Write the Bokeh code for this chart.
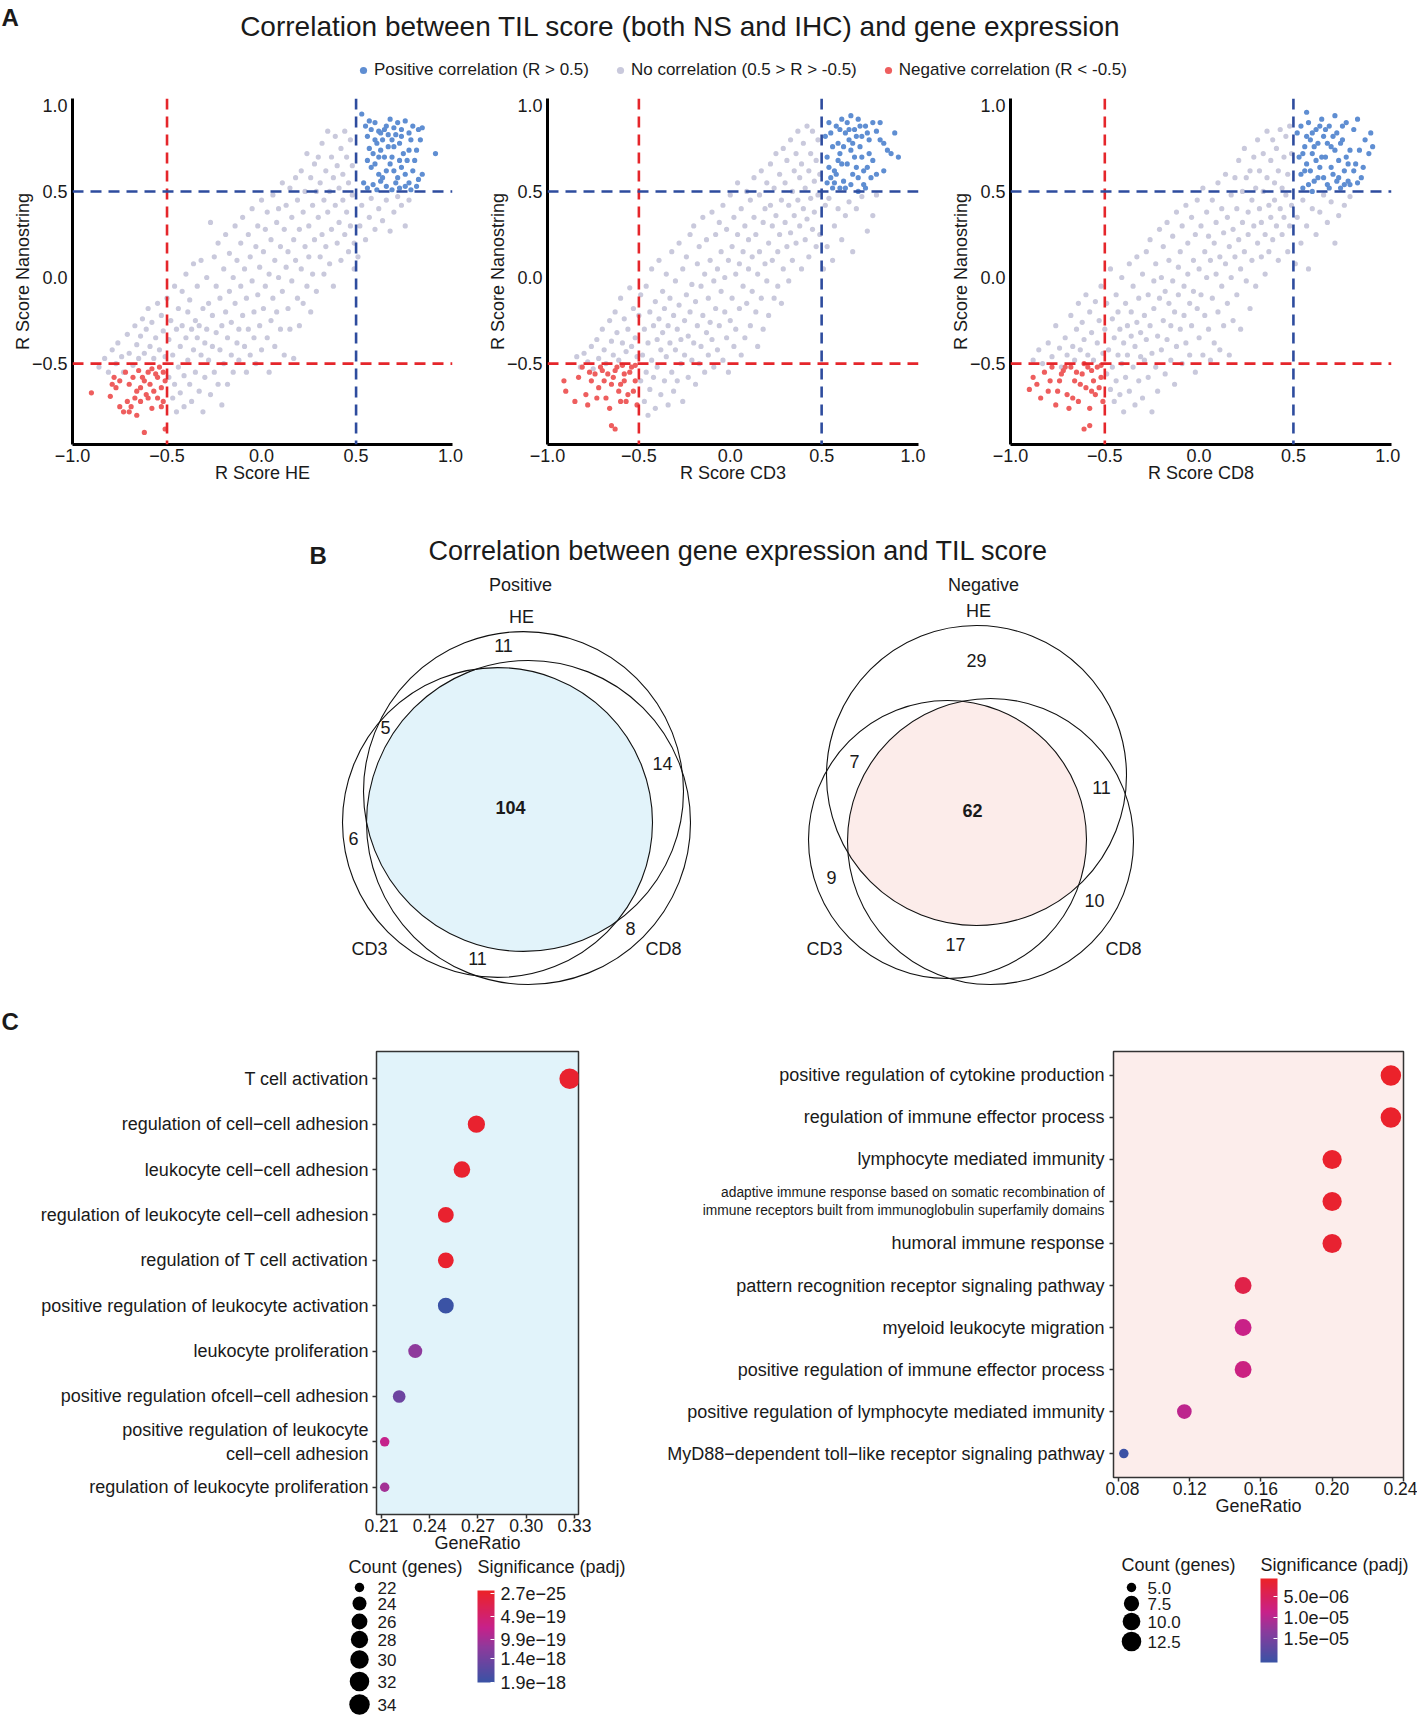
import math
from bokeh.plotting import figure
from bokeh.layouts import column, row
from bokeh.models import (Range1d, FixedTicker, Span, Legend, LegendItem,
                          ColumnDataSource, LinearColorMapper, ColorBar, AllLabels)
from bokeh.transform import transform
from bokeh.core.properties import value
from bokeh.embed import file_html
from bokeh.resources import INLINE

FONT = "Liberation Sans"
INK = "#1a1a1a"

# ------------------------------------------------------------------ data A
HE_GRAY = [
    (-0.86,-0.52),(-0.83,-0.47),(-0.81,-0.55),(-0.79,-0.42),(-0.77,-0.50),(-0.76,-0.38),(-0.74,-0.46),(-0.73,-0.55),
    (-0.71,-0.33),(-0.70,-0.44),(-0.68,-0.51),(-0.67,-0.28),(-0.66,-0.39),(-0.65,-0.47),(-0.64,-0.34),(-0.63,-0.24),(-0.62,-0.44),
    (-0.61,-0.30),(-0.60,-0.18),(-0.59,-0.40),(-0.58,-0.26),(-0.57,-0.47),(-0.56,-0.35),(-0.55,-0.15),(-0.54,-0.42),(-0.53,-0.22),(-0.52,-0.31),(-0.51,-0.46),
    (-0.50,-0.12),(-0.49,-0.36),(-0.49,-0.58),(-0.48,-0.25),(-0.47,-0.70),(-0.47,-0.45),(-0.46,-0.05),(-0.46,-0.62),(-0.45,-0.30),(-0.45,-0.78),(-0.44,-0.18),(-0.44,-0.52),(-0.43,-0.40),(-0.43,-0.67),(-0.42,-0.08),(-0.42,-0.28),(-0.41,-0.57),(-0.41,-0.75),
    (-0.40,0.02),(-0.40,-0.35),(-0.39,-0.20),(-0.39,-0.48),(-0.38,-0.62),(-0.38,-0.13),(-0.37,-0.30),(-0.37,-0.72),(-0.36,-0.42),(-0.36,0.08),(-0.35,-0.25),(-0.35,-0.55),(-0.34,-0.35),(-0.34,-0.05),(-0.33,-0.66),(-0.33,-0.28),(-0.32,-0.45),(-0.32,0.10),(-0.31,-0.18),(-0.31,-0.78),
    (-0.30,-0.38),(-0.30,-0.58),(-0.29,0.00),(-0.29,-0.30),(-0.28,-0.15),(-0.28,-0.48),(-0.27,0.32),(-0.27,-0.68),(-0.26,-0.22),(-0.26,-0.40),(-0.25,0.12),(-0.25,-0.55),(-0.24,-0.32),(-0.24,-0.05),(-0.23,-0.62),(-0.23,0.20),(-0.22,-0.42),(-0.22,-0.12),(-0.21,-0.28),(-0.21,-0.74),
    (-0.20,0.05),(-0.20,-0.50),(-0.19,-0.20),(-0.19,0.25),(-0.18,-0.35),(-0.18,-0.62),(-0.17,-0.08),(-0.17,0.14),(-0.16,-0.45),(-0.16,-0.26),(-0.15,0.00),(-0.15,-0.55),(-0.14,0.30),(-0.14,-0.15),(-0.13,-0.38),(-0.13,0.10),(-0.12,-0.30),(-0.12,-0.48),(-0.11,0.20),(-0.11,-0.05),
    (-0.10,-0.22),(-0.10,0.35),(-0.09,-0.40),(-0.09,0.05),(-0.08,-0.12),(-0.08,-0.55),(-0.07,0.25),(-0.07,-0.30),(-0.06,0.12),(-0.06,-0.45),(-0.05,-0.02),(-0.05,0.40),(-0.04,-0.20),(-0.04,-0.35),(-0.03,0.18),(-0.03,-0.50),(-0.02,0.30),(-0.02,-0.10),(-0.01,-0.28),(-0.01,0.06),
    (0.00,0.45),(0.00,-0.42),(0.01,0.15),(0.01,-0.18),(0.02,-0.05),(0.02,0.28),(0.03,-0.35),(0.03,0.38),(0.04,0.02),(0.04,-0.55),(0.05,0.22),(0.05,-0.25),(0.06,0.48),(0.06,-0.12),(0.07,0.10),(0.07,-0.40),(0.08,0.32),(0.08,-0.20),(0.09,0.00),(0.09,0.40),
    (0.10,-0.30),(0.10,0.18),(0.11,0.55),(0.11,-0.08),(0.12,0.28),(0.12,-0.45),(0.13,0.06),(0.13,0.42),(0.14,-0.18),(0.14,0.15),(0.15,0.52),(0.15,-0.30),(0.16,0.35),(0.16,-0.02),(0.17,-0.47),(0.17,0.22),(0.18,0.10),(0.18,0.58),(0.19,-0.12),(0.19,0.45),
    (0.20,0.28),(0.20,-0.28),(0.21,0.05),(0.21,0.62),(0.22,0.38),(0.22,-0.15),(0.23,0.18),(0.23,0.50),(0.24,-0.05),(0.24,0.72),(0.25,0.30),(0.25,0.12),(0.26,0.58),(0.26,-0.20),(0.27,0.42),(0.27,0.02),(0.28,0.66),(0.28,0.22),(0.29,0.50),(0.29,-0.08),
    (0.30,0.35),(0.30,0.70),(0.31,0.12),(0.31,0.55),(0.32,0.25),(0.32,0.78),(0.33,0.45),(0.33,0.02),(0.34,0.62),(0.34,0.18),(0.35,0.85),(0.35,0.38),(0.36,0.50),(0.36,0.08),(0.37,0.70),(0.37,0.28),(0.38,0.58),(0.38,-0.05),(0.39,0.42),(0.39,0.82),
    (0.40,0.20),(0.40,0.65),(0.41,0.52),(0.41,0.32),(0.42,0.75),(0.42,0.10),(0.43,0.45),(0.43,0.60),(0.44,0.25),(0.44,0.85),(0.45,0.38),(0.45,0.70),(0.46,0.15),(0.46,0.55),(0.47,0.80),(0.47,0.30),(0.48,0.48),(0.48,0.65),(0.49,0.05),(0.49,0.20),
    (0.51,0.12),(0.52,0.30),(0.53,0.42),(0.55,0.22),(0.57,0.35),(0.58,0.46),(0.60,0.28),(0.62,0.40),(0.64,0.33),(0.66,0.45),(0.68,0.27),(0.70,0.38),(0.72,0.47),(0.74,0.42),(0.76,0.30),(0.78,0.45),
]
HE_BLUE = [
    (0.53,0.95),(0.55,0.88),(0.56,0.82),(0.58,0.86),(0.60,0.90),(0.62,0.85),(0.64,0.80),(0.66,0.88),(0.68,0.92),(0.70,0.87),
    (0.72,0.90),(0.74,0.86),(0.76,0.91),(0.78,0.84),(0.80,0.88),(0.83,0.86),(0.85,0.87),(0.57,0.75),(0.59,0.72),(0.61,0.78),
    (0.63,0.74),(0.65,0.70),(0.67,0.76),(0.69,0.80),(0.71,0.83),(0.73,0.78),(0.75,0.72),(0.77,0.68),(0.79,0.80),(0.82,0.74),
    (0.84,0.80),(0.92,0.72),(0.56,0.68),(0.58,0.64),(0.60,0.66),(0.62,0.60),(0.64,0.58),(0.66,0.62),(0.68,0.66),(0.70,0.62),
    (0.72,0.58),(0.74,0.64),(0.76,0.60),(0.78,0.55),(0.80,0.62),(0.83,0.57),(0.85,0.60),(0.54,0.55),(0.56,0.52),(0.59,0.54),
    (0.61,0.51),(0.63,0.56),(0.66,0.53),(0.69,0.51),(0.71,0.55),(0.73,0.52),(0.76,0.53),(0.79,0.51),(0.82,0.53),(0.60,0.80),
    (0.63,0.84),(0.67,0.83),(0.70,0.76),(0.74,0.82),(0.57,0.91),(0.65,0.86),(0.69,0.70),(0.73,0.68),(0.78,0.74),(0.81,0.68),(0.62,0.70),
]
HE_RED = [
    (-0.90,-0.67),(-0.80,-0.69),(-0.78,-0.58),(-0.75,-0.60),(-0.72,-0.55),(-0.70,-0.62),(-0.68,-0.58),(-0.66,-0.66),(-0.64,-0.72),(-0.62,-0.60),
    (-0.60,-0.55),(-0.58,-0.53),(-0.56,-0.56),(-0.54,-0.52),(-0.52,-0.55),(-0.51,-0.60),(-0.53,-0.64),(-0.55,-0.70),(-0.57,-0.66),(-0.59,-0.62),
    (-0.61,-0.68),(-0.63,-0.58),(-0.65,-0.54),(-0.67,-0.70),(-0.69,-0.75),(-0.71,-0.72),(-0.73,-0.78),(-0.75,-0.75),(-0.77,-0.64),(-0.79,-0.62),
    (-0.62,-0.90),(-0.51,-0.88),(-0.52,-0.72),(-0.53,-0.75),(-0.58,-0.76),(-0.66,-0.80),(-0.70,-0.78),(-0.60,-0.70),(-0.55,-0.58),(-0.64,-0.64),
]
CD3_GRAY = [
    (-0.84,-0.46),(-0.82,-0.52),(-0.80,-0.44),(-0.78,-0.49),(-0.76,-0.40),(-0.75,-0.53),(-0.73,-0.36),(-0.72,-0.47),
    (-0.70,-0.30),(-0.69,-0.42),(-0.68,-0.50),(-0.66,-0.25),(-0.65,-0.37),(-0.64,-0.45),(-0.63,-0.20),(-0.62,-0.32),(-0.61,-0.48),
    (-0.60,-0.12),(-0.59,-0.38),(-0.58,-0.24),(-0.57,-0.43),(-0.56,-0.30),(-0.55,-0.06),(-0.54,-0.40),(-0.53,-0.18),(-0.52,-0.35),(-0.51,-0.46),
    (-0.50,-0.22),(-0.49,-0.60),(-0.49,-0.10),(-0.48,-0.45),(-0.47,-0.72),(-0.47,-0.30),(-0.46,-0.05),(-0.46,-0.55),(-0.45,-0.38),(-0.45,-0.80),(-0.44,-0.20),(-0.44,-0.65),(-0.43,-0.48),(-0.43,0.05),(-0.42,-0.28),(-0.42,-0.58),(-0.41,-0.14),(-0.41,-0.76),
    (-0.40,-0.36),(-0.40,-0.52),(-0.39,0.10),(-0.39,-0.24),(-0.38,-0.68),(-0.38,-0.42),(-0.37,-0.08),(-0.37,-0.32),(-0.36,-0.60),(-0.36,-0.18),(-0.35,0.02),(-0.35,-0.46),(-0.34,-0.28),(-0.34,-0.74),(-0.33,-0.38),(-0.33,-0.12),(-0.32,-0.55),(-0.32,0.15),(-0.31,-0.22),(-0.31,-0.66),
    (-0.30,-0.42),(-0.30,-0.02),(-0.29,-0.30),(-0.29,-0.60),(-0.28,0.20),(-0.28,-0.16),(-0.27,-0.50),(-0.27,-0.36),(-0.26,0.05),(-0.26,-0.72),(-0.25,-0.25),(-0.25,-0.45),(-0.24,0.12),(-0.24,-0.10),(-0.23,-0.58),(-0.23,-0.34),(-0.22,0.25),(-0.22,-0.20),(-0.21,-0.48),(-0.21,-0.04),
    (-0.20,-0.38),(-0.20,0.30),(-0.19,-0.14),(-0.19,-0.62),(-0.18,0.08),(-0.18,-0.28),(-0.17,-0.50),(-0.17,0.18),(-0.16,-0.05),(-0.16,-0.40),(-0.15,0.35),(-0.15,-0.22),(-0.14,-0.55),(-0.14,0.02),(-0.13,-0.32),(-0.13,0.22),(-0.12,-0.12),(-0.12,-0.45),(-0.11,0.10),(-0.11,-0.26),
    (-0.10,0.38),(-0.10,-0.36),(-0.09,-0.02),(-0.09,-0.52),(-0.08,0.25),(-0.08,-0.18),(-0.07,0.05),(-0.07,-0.42),(-0.06,0.32),(-0.06,-0.28),(-0.05,-0.08),(-0.05,0.15),(-0.04,-0.48),(-0.04,0.42),(-0.03,-0.20),(-0.03,0.00),(-0.02,-0.35),(-0.02,0.28),(-0.01,0.10),(-0.01,-0.55),
    (0.00,-0.25),(0.00,0.48),(0.01,0.18),(0.01,-0.12),(0.02,-0.40),(0.02,0.35),(0.03,0.02),(0.03,-0.30),(0.04,0.25),(0.04,0.55),(0.05,-0.18),(0.05,0.08),(0.06,-0.45),(0.06,0.40),(0.07,0.15),(0.07,-0.05),(0.08,0.30),(0.08,-0.35),(0.09,0.50),(0.09,-0.15),
    (0.10,0.05),(0.10,0.22),(0.11,-0.28),(0.11,0.45),(0.12,0.12),(0.12,-0.08),(0.13,0.35),(0.13,0.58),(0.14,-0.20),(0.14,0.25),(0.15,0.02),(0.15,-0.40),(0.16,0.48),(0.16,0.15),(0.17,-0.12),(0.17,0.62),(0.18,0.32),(0.18,-0.30),(0.19,0.08),(0.19,0.40),
    (0.20,0.55),(0.20,-0.02),(0.21,0.20),(0.21,-0.22),(0.22,0.42),(0.22,0.66),(0.23,0.10),(0.23,0.30),(0.24,-0.12),(0.24,0.52),(0.25,0.36),(0.25,0.72),(0.26,0.15),(0.26,-0.05),(0.27,0.60),(0.27,0.25),(0.28,0.45),(0.28,-0.15),(0.29,0.05),(0.29,0.75),
    (0.30,0.32),(0.30,0.55),(0.31,0.18),(0.31,0.68),(0.32,-0.02),(0.32,0.42),(0.33,0.80),(0.33,0.26),(0.34,0.50),(0.34,0.10),(0.35,0.62),(0.35,0.36),(0.36,0.72),(0.36,0.20),(0.37,0.45),(0.37,0.85),(0.38,0.30),(0.38,0.58),(0.39,0.05),(0.39,0.66),
    (0.40,0.40),(0.40,0.78),(0.41,0.22),(0.41,0.52),(0.42,0.88),(0.42,0.34),(0.43,0.62),(0.43,0.12),(0.44,0.46),(0.44,0.72),(0.45,0.28),(0.45,0.85),(0.46,0.56),(0.46,0.38),(0.47,0.18),(0.47,0.68),(0.48,0.80),(0.48,0.48),(0.49,0.25),(0.49,0.60),
    (0.51,0.05),(0.52,0.42),(0.53,0.18),(0.54,0.46),(0.56,0.10),(0.57,0.30),(0.59,0.40),(0.61,0.22),(0.63,0.36),(0.65,0.44),(0.67,0.15),(0.69,0.40),(0.72,0.47),(0.75,0.27),(0.78,0.36),(0.80,0.48),
]
CD3_BLUE = [
    (0.52,0.82),(0.53,0.70),(0.54,0.64),(0.55,0.58),(0.56,0.52),(0.57,0.62),(0.58,0.88),(0.59,0.78),(0.60,0.72),(0.61,0.66),
    (0.62,0.56),(0.63,0.84),(0.64,0.90),(0.65,0.80),(0.66,0.74),(0.67,0.60),(0.68,0.86),(0.69,0.82),(0.70,0.92),(0.71,0.76),
    (0.72,0.70),(0.73,0.54),(0.74,0.88),(0.75,0.64),(0.76,0.80),(0.77,0.58),(0.78,0.68),(0.80,0.85),(0.82,0.90),(0.84,0.62),
    (0.86,0.74),(0.88,0.72),(0.90,0.84),(0.92,0.70),(0.54,0.90),(0.56,0.76),(0.58,0.60),(0.60,0.86),(0.62,0.76),(0.64,0.66),
    (0.66,0.54),(0.68,0.70),(0.70,0.58),(0.72,0.82),(0.74,0.52),(0.76,0.72),(0.78,0.90),(0.80,0.60),(0.82,0.80),(0.57,0.55),
    (0.59,0.68),(0.61,0.92),(0.63,0.52),(0.65,0.86),(0.67,0.78),(0.69,0.64),(0.71,0.88),(0.73,0.62),(0.75,0.84),(0.53,0.55),
    (0.55,0.84),(0.60,0.52),(0.66,0.94),(0.84,0.78),(0.70,0.50),
]
CD3_RED = [
    (-0.91,-0.60),(-0.90,-0.66),(-0.85,-0.72),(-0.83,-0.58),(-0.81,-0.52),(-0.79,-0.68),(-0.78,-0.74),(-0.76,-0.60),(-0.74,-0.56),(-0.72,-0.64),
    (-0.70,-0.54),(-0.68,-0.70),(-0.66,-0.76),(-0.64,-0.58),(-0.62,-0.52),(-0.60,-0.62),(-0.58,-0.56),(-0.56,-0.68),(-0.54,-0.52),(-0.52,-0.60),
    (-0.51,-0.74),(-0.53,-0.66),(-0.55,-0.55),(-0.57,-0.72),(-0.59,-0.51),(-0.61,-0.66),(-0.63,-0.54),(-0.65,-0.62),(-0.67,-0.56),(-0.69,-0.60),
    (-0.73,-0.70),(-0.77,-0.55),(-0.65,-0.86),(-0.63,-0.88),(-0.60,-0.72),(-0.52,-0.51),(-0.71,-0.52),(-0.58,-0.60),
]
CD8_GRAY = [
    (-0.88,-0.48),(-0.85,-0.42),(-0.83,-0.50),(-0.80,-0.38),(-0.78,-0.46),(-0.76,-0.28),(-0.74,-0.41),(-0.73,-0.52),
    (-0.71,-0.35),(-0.70,-0.45),(-0.68,-0.22),(-0.67,-0.40),(-0.66,-0.48),(-0.65,-0.30),(-0.64,-0.15),(-0.63,-0.42),(-0.62,-0.26),
    (-0.61,-0.36),(-0.60,-0.10),(-0.59,-0.45),(-0.58,-0.20),(-0.57,-0.32),(-0.56,-0.48),(-0.55,-0.14),(-0.54,-0.38),(-0.53,-0.25),(-0.52,-0.05),(-0.51,-0.44),
    (-0.50,-0.30),(-0.49,-0.56),(-0.49,-0.15),(-0.48,-0.42),(-0.47,-0.65),(-0.47,0.05),(-0.46,-0.24),(-0.46,-0.52),(-0.45,-0.35),(-0.45,-0.72),(-0.44,-0.10),(-0.44,-0.60),(-0.43,-0.45),(-0.43,-0.20),(-0.42,-0.30),(-0.42,-0.68),(-0.41,0.00),(-0.41,-0.50),
    (-0.40,-0.38),(-0.40,-0.78),(-0.39,-0.15),(-0.39,-0.58),(-0.38,-0.28),(-0.38,-0.45),(-0.37,0.08),(-0.37,-0.66),(-0.36,-0.34),(-0.36,-0.20),(-0.35,-0.52),(-0.35,-0.05),(-0.34,-0.40),(-0.34,-0.74),(-0.33,-0.26),(-0.33,0.12),(-0.32,-0.60),(-0.32,-0.12),(-0.31,-0.46),(-0.31,-0.32),
    (-0.30,0.02),(-0.30,-0.70),(-0.29,-0.22),(-0.29,-0.48),(-0.28,0.15),(-0.28,-0.36),(-0.27,-0.58),(-0.27,-0.10),(-0.26,-0.28),(-0.26,0.22),(-0.25,-0.44),(-0.25,-0.78),(-0.24,-0.02),(-0.24,-0.18),(-0.23,-0.52),(-0.23,0.08),(-0.22,-0.34),(-0.22,-0.66),(-0.21,0.28),(-0.21,-0.12),
    (-0.20,-0.42),(-0.20,0.00),(-0.19,-0.25),(-0.19,0.18),(-0.18,-0.56),(-0.18,-0.08),(-0.17,0.32),(-0.17,-0.36),(-0.16,-0.15),(-0.16,0.10),(-0.15,-0.48),(-0.15,-0.28),(-0.14,0.24),(-0.14,-0.02),(-0.13,-0.62),(-0.13,-0.20),(-0.12,0.38),(-0.12,-0.40),(-0.11,0.06),(-0.11,-0.10),
    (-0.10,-0.30),(-0.10,0.15),(-0.09,-0.50),(-0.09,0.30),(-0.08,-0.05),(-0.08,-0.22),(-0.07,0.42),(-0.07,-0.38),(-0.06,0.02),(-0.06,0.20),(-0.05,-0.15),(-0.05,-0.45),(-0.04,0.35),(-0.04,-0.28),(-0.03,0.10),(-0.03,-0.08),(-0.02,-0.55),(-0.02,0.25),(-0.01,-0.18),(-0.01,0.45),
    (0.00,0.05),(0.00,-0.35),(0.01,0.30),(0.01,-0.10),(0.02,0.52),(0.02,-0.45),(0.03,0.15),(0.03,-0.22),(0.04,0.38),(0.04,0.00),(0.05,-0.30),(0.05,0.24),(0.06,0.10),(0.06,-0.48),(0.07,0.45),(0.07,-0.12),(0.08,0.20),(0.08,-0.38),(0.09,0.32),(0.09,0.02),
    (0.10,-0.20),(0.10,0.55),(0.11,0.12),(0.11,-0.42),(0.12,0.40),(0.12,-0.05),(0.13,0.26),(0.13,-0.28),(0.14,0.60),(0.14,0.08),(0.15,-0.15),(0.15,0.35),(0.16,0.18),(0.16,-0.45),(0.17,0.48),(0.17,0.00),(0.18,-0.25),(0.18,0.28),(0.19,0.58),(0.19,0.12),
    (0.20,-0.10),(0.20,0.40),(0.21,0.22),(0.21,0.68),(0.22,0.05),(0.22,-0.30),(0.23,0.50),(0.23,0.32),(0.24,0.15),(0.24,0.75),(0.25,-0.02),(0.25,0.58),(0.26,0.38),(0.26,0.25),(0.27,0.62),(0.27,-0.18),(0.28,0.45),(0.28,0.10),(0.29,0.70),(0.29,0.30),
    (0.30,0.52),(0.30,-0.05),(0.31,0.20),(0.31,0.80),(0.32,0.40),(0.32,0.62),(0.33,0.12),(0.33,0.32),(0.34,0.72),(0.34,0.50),(0.35,0.25),(0.35,0.02),(0.36,0.58),(0.36,0.85),(0.37,0.42),(0.37,0.15),(0.38,0.68),(0.38,0.35),(0.39,0.80),(0.39,0.22),
    (0.40,0.55),(0.40,0.45),(0.41,0.30),(0.41,0.75),(0.42,0.62),(0.42,0.10),(0.43,0.86),(0.43,0.40),(0.44,0.52),(0.44,0.25),(0.45,0.70),(0.45,0.35),(0.46,0.82),(0.46,0.48),(0.47,0.15),(0.47,0.60),(0.48,0.30),(0.48,0.88),(0.49,0.72),(0.49,0.42),
    (0.51,0.08),(0.52,0.35),(0.54,0.20),(0.55,0.45),(0.57,0.30),(0.58,0.05),(0.60,0.40),(0.62,0.25),(0.64,0.38),(0.66,0.48),(0.68,0.32),(0.70,0.44),(0.72,0.20),(0.74,0.36),(0.77,0.42),(0.80,0.47),
]
CD8_BLUE = [
    (0.52,0.84),(0.53,0.70),(0.54,0.60),(0.55,0.52),(0.56,0.76),(0.57,0.66),(0.58,0.90),(0.59,0.80),(0.60,0.72),(0.61,0.56),
    (0.62,0.86),(0.63,0.78),(0.64,0.64),(0.65,0.92),(0.66,0.82),(0.67,0.70),(0.68,0.54),(0.69,0.88),(0.70,0.76),(0.71,0.60),
    (0.72,0.94),(0.73,0.84),(0.74,0.68),(0.75,0.52),(0.76,0.80),(0.77,0.62),(0.78,0.90),(0.79,0.56),(0.80,0.74),(0.82,0.86),
    (0.83,0.66),(0.84,0.92),(0.86,0.58),(0.88,0.80),(0.90,0.72),(0.92,0.76),(0.54,0.88),(0.56,0.62),(0.58,0.54),(0.60,0.84),
    (0.62,0.68),(0.64,0.88),(0.66,0.58),(0.68,0.78),(0.70,0.64),(0.72,0.74),(0.74,0.58),(0.76,0.88),(0.78,0.70),(0.80,0.54),
    (0.82,0.62),(0.85,0.74),(0.87,0.64),(0.91,0.84),(0.55,0.72),(0.57,0.82),(0.59,0.62),(0.61,0.76),(0.63,0.58),(0.65,0.70),
    (0.67,0.86),(0.69,0.52),(0.71,0.82),(0.73,0.56),(0.75,0.78),(0.77,0.54),(0.79,0.66),(0.57,0.96),(0.60,0.50),(0.84,0.55),
]
CD8_RED = [
    (-0.90,-0.65),(-0.88,-0.58),(-0.86,-0.62),(-0.84,-0.70),(-0.82,-0.55),(-0.80,-0.66),(-0.78,-0.52),(-0.76,-0.74),(-0.74,-0.60),(-0.72,-0.54),
    (-0.70,-0.68),(-0.69,-0.76),(-0.68,-0.52),(-0.66,-0.60),(-0.64,-0.72),(-0.62,-0.56),(-0.61,-0.50),(-0.60,-0.64),(-0.58,-0.76),(-0.57,-0.54),
    (-0.56,-0.60),(-0.55,-0.68),(-0.54,-0.52),(-0.53,-0.64),(-0.52,-0.58),(-0.51,-0.72),(-0.73,-0.56),(-0.71,-0.52),(-0.67,-0.70),(-0.65,-0.55),
    (-0.63,-0.62),(-0.59,-0.52),(-0.61,-0.88),(-0.58,-0.86),(-0.75,-0.66),(-0.79,-0.60),(-0.52,-0.51),(-0.57,-0.66),
]
A_XLABELS = ["R Score HE", "R Score CD3", "R Score CD8"]
A_YLABEL = "R Score Nanostring"
A_XTICKS = [-1.0, -0.5, 0.0, 0.5, 1.0]
A_YTICKS = [-0.5, 0.0, 0.5, 1.0]
A_THRESH = [-0.5, 0.5]
A_LEGEND = ["Positive correlation (R > 0.5)", "No correlation (0.5 > R > -0.5)", "Negative correlation (R < -0.5)"]

# ------------------------------------------------------------------ data B
VENN_SETS = ["HE", "CD3", "CD8"]
POS_COUNTS = {"HE": 11, "HE&CD3": 5, "HE&CD8": 14, "all": 104, "CD3": 6, "CD3&CD8": 11, "CD8": 8}
NEG_COUNTS = {"HE": 29, "HE&CD3": 7, "HE&CD8": 11, "all": 62, "CD3": 9, "CD3&CD8": 17, "CD8": 10}

# ------------------------------------------------------------------ data C
POS_TERMS = ["T cell activation", "regulation of cell\u2212cell adhesion", "leukocyte cell\u2212cell adhesion",
             "regulation of leukocyte cell\u2212cell adhesion", "regulation of T cell activation",
             "positive regulation of leukocyte activation", "leukocyte proliferation",
             "positive regulation ofcell\u2212cell adhesion",
             "positive regulation of leukocyte\ncell\u2212cell adhesion",
             "regulation of leukocyte proliferation"]
POS_RATIO = [0.327, 0.269, 0.260, 0.250, 0.250, 0.250, 0.231, 0.221, 0.212, 0.212]
POS_COUNT = [34, 28, 27, 26, 26, 26, 24, 23, 22, 22]
POS_PADJ = [2.7e-25, 1e-22, 5e-22, 2e-21, 3e-21, 1.9e-18, 1.15e-18, 1.45e-18, 7.5e-19, 1.0e-18]
POS_RATIO_TICKS = [0.21, 0.24, 0.27, 0.30, 0.33]
POS_SIZE_BREAKS = [22, 24, 26, 28, 30, 32, 34]
POS_PADJ_BREAKS = [2.7e-25, 4.9e-19, 9.9e-19, 1.4e-18, 1.9e-18]

NEG_TERMS = ["positive regulation of cytokine production", "regulation of immune effector process",
             "lymphocyte mediated immunity",
             "adaptive immune response based on somatic recombination of\nimmune receptors built from immunoglobulin superfamily domains",
             "humoral immune response", "pattern recognition receptor signaling pathway",
             "myeloid leukocyte migration", "positive regulation of immune effector process",
             "positive regulation of lymphocyte mediated immunity",
             "MyD88\u2212dependent toll\u2212like receptor signaling pathway"]
NEG_RATIO = [0.233, 0.233, 0.200, 0.200, 0.200, 0.150, 0.150, 0.150, 0.117, 0.083]
NEG_COUNT = [14, 14, 12, 12, 12, 9, 9, 9, 7, 5]
NEG_PADJ = [1.0e-6, 1.1e-6, 1.3e-6, 1.4e-6, 1.5e-6, 3.5e-6, 8.5e-6, 8.0e-6, 9.5e-6, 2.05e-5]
NEG_RATIO_TICKS = [0.08, 0.12, 0.16, 0.20, 0.24]
NEG_SIZE_BREAKS = [5.0, 7.5, 10.0, 12.5]
NEG_PADJ_BREAKS = [5.0e-6, 1.0e-5, 1.5e-5]

# ------------------------------------------------------------------ styles
GRAY_C, BLUE_C, RED_C = "#C9C9DC", "#5F8ED2", "#EE5E5E"
RED_LINE, BLUE_LINE = "#E5262B", "#2E4C9E"
POS_FILL, NEG_FILL = "#E2F3FA", "#FCECEA"


def make_palette(stops, n=256):
    def hx(c):
        return [int(c[i:i + 2], 16) for i in (1, 3, 5)]
    out = []
    for i in range(n):
        t = i / (n - 1)
        for (t0, c0), (t1, c1) in zip(stops[:-1], stops[1:]):
            if t0 <= t <= t1:
                f = (t - t0) / (t1 - t0)
                a, b = hx(c0), hx(c1)
                out.append("#%02x%02x%02x" % tuple(round(a[k] + (b[k] - a[k]) * f) for k in range(3)))
                break
    return out


PAL = make_palette([(0.0, "#EC2227"), (0.4, "#C8218A"), (0.62, "#8D3A9C"), (1.0, "#3A53A5")])


def sup(v):
    return ("%.1e" % v).replace("-", "\u2212")


def canvas(width, height, x0, x1, y_top, y_bottom):
    p = figure(width=width, height=height, x_range=Range1d(x0, x1), y_range=Range1d(y_bottom, y_top),
               x_axis_type=None, y_axis_type=None, min_border=0,
               output_backend="svg", toolbar_location=None)
    p.outline_line_color = None
    p.background_fill_color = "white"
    p.border_fill_color = "white"
    return p


def txt(p, x, y, s, size="18px", align="center", bold=False, color=INK):
    p.text(x=[x], y=[y], text=[s], text_align=align, text_baseline="middle",
           text_font=value(FONT), text_font_size=size,
           text_font_style=value("bold" if bold else "normal"), text_color=color)


# ------------------------------------------------------------------ header (image px 0..1417 x 0..90)
head = canvas(1417, 90, 0, 1417, 0, 90)
txt(head, 1, 17, "A", size="24px", align="left", bold=True)
txt(head, 684, 26, "Correlation between TIL  score (both NS and IHC) and gene expression", size="28px")
# legend proxies: one point each, outside the visible range, so only the legend swatch shows
leg_r = [head.scatter(x=[-500], y=[-500], size=7, fill_color=c, line_color=None) for c in (BLUE_C, GRAY_C, RED_C)]
head_leg = Legend(items=[LegendItem(label=l, renderers=[r]) for l, r in zip(A_LEGEND, leg_r)],
                  orientation="horizontal", location=(354, 10), glyph_width=18, glyph_height=18,
                  label_height=20, label_standoff=2, spacing=22, padding=0, margin=0,
                  border_line_color=None, background_fill_alpha=0,
                  label_text_font=FONT, label_text_font_size="17px", label_text_color=INK)
head.add_layout(head_leg)


# ------------------------------------------------------------------ A
def scatter_panel(gray, blue, red, xlabel, width, left, frame_w, x_end):
    p = figure(width=width, height=418, x_range=Range1d(-1.0, x_end), y_range=Range1d(-0.97, 1.04),
               output_backend="svg", toolbar_location=None,
               min_border_left=left, min_border_right=width - left - frame_w,
               min_border_top=8, min_border_bottom=64)
    p.outline_line_color = None
    p.grid.visible = False
    for pts, col in ((gray, GRAY_C), (blue, BLUE_C), (red, RED_C)):
        p.scatter([q[0] for q in pts], [q[1] for q in pts], size=5.2, fill_color=col, line_color=None)
    for loc, col in zip(A_THRESH, (RED_LINE, BLUE_LINE)):
        for dim in ("width", "height"):
            p.add_layout(Span(location=loc, dimension=dim, line_color=col, line_width=2.6, line_dash="11 7"))
    p.xaxis.axis_label = xlabel
    p.yaxis.axis_label = A_YLABEL
    p.xaxis.ticker = FixedTicker(ticks=A_XTICKS)
    p.yaxis.ticker = FixedTicker(ticks=A_YTICKS)
    p.xaxis.major_label_overrides = {t: ("%.1f" % t).replace("-", "\u2212") for t in A_XTICKS}
    p.yaxis.major_label_overrides = {t: ("%.1f" % t).replace("-", "\u2212") for t in A_YTICKS}
    for ax in (p.xaxis[0], p.yaxis[0]):
        ax.axis_line_width = 3
        ax.axis_line_color = "black"
        ax.major_tick_line_color = None
        ax.minor_tick_line_color = None
        ax.major_tick_in = 0
        ax.major_tick_out = 0
        ax.major_label_text_font = FONT
        ax.major_label_text_font_size = "18px"
        ax.major_label_text_color = INK
        ax.axis_label_text_font = FONT
        ax.axis_label_text_font_size = "18px"
        ax.axis_label_text_font_style = "normal"
        ax.axis_label_text_color = INK
    p.xaxis.major_label_standoff = 4
    p.xaxis.axis_label_standoff = -2
    p.yaxis.major_label_standoff = 5
    p.yaxis.axis_label_standoff = -4
    return p


a1 = scatter_panel(HE_GRAY, HE_BLUE, HE_RED, A_XLABELS[0], 472, 72, 380, 1.01)
a2 = scatter_panel(CD3_GRAY, CD3_BLUE, CD3_RED, A_XLABELS[1], 465, 75, 371, 1.03)
a3 = scatter_panel(CD8_GRAY, CD8_BLUE, CD8_RED, A_XLABELS[2], 480, 73, 381, 1.02)

# ------------------------------------------------------------------ B (image px y 508..1040)
vb = canvas(1417, 532, 0, 1417, 508, 1040)
txt(vb, 309, 555, "B", size="24px", align="left", bold=True)
txt(vb, 738, 550, "Correlation between gene expression and TIL score", size="27px")
txt(vb, 1, 1021, "C", size="24px", align="left", bold=True)

VENN_LAYOUT = [
    dict(title="Positive", tpos=(520, 584), fill=POS_FILL,
         circles={"HE": (523, 791, 160), "CD3": (497, 822, 155), "CD8": (528, 822, 162)},
         setpos={"HE": (521, 616), "CD3": (369, 948), "CD8": (663, 948)},
         regpos={"HE": (503, 645), "HE&CD3": (385, 727), "HE&CD8": (662, 763), "all": (510, 807),
                 "CD3": (353, 838), "CD3&CD8": (477, 958), "CD8": (630, 928)},
         counts=POS_COUNTS),
    dict(title="Negative", tpos=(983, 584), fill=NEG_FILL,
         circles={"HE": (976, 775, 150), "CD3": (947, 839, 139), "CD8": (990, 841, 143)},
         setpos={"HE": (978, 610), "CD3": (824, 948), "CD8": (1123, 948)},
         regpos={"HE": (976, 660), "HE&CD3": (854, 761), "HE&CD8": (1101, 787), "all": (972, 810),
                 "CD3": (831, 877), "CD3&CD8": (955, 944), "CD8": (1094, 900)},
         counts=NEG_COUNTS),
]


def triple_region(circles):
    pts = []
    cs = list(circles.values())
    for i, (cx, cy, r) in enumerate(cs):
        for k in range(1440):
            a = 2 * math.pi * k / 1440
            x, y = cx + r * math.cos(a), cy + r * math.sin(a)
            if all(math.hypot(x - ox, y - oy) <= orr + 1e-6 for j, (ox, oy, orr) in enumerate(cs) if j != i):
                pts.append((x, y))
    mx = sum(p[0] for p in pts) / len(pts)
    my = sum(p[1] for p in pts) / len(pts)
    pts.sort(key=lambda p: math.atan2(p[1] - my, p[0] - mx))
    return [p[0] for p in pts], [p[1] for p in pts]


for v in VENN_LAYOUT:
    xs, ys = triple_region(v["circles"])
    vb.patch(xs, ys, fill_color=v["fill"], line_color=None)
    for s in VENN_SETS:
        cx, cy, r = v["circles"][s]
        vb.circle(x=[cx], y=[cy], radius=r, fill_color=None, line_color="#111111", line_width=1.1)
        txt(vb, *v["setpos"][s], s, size="18px")
    txt(vb, *v["tpos"], v["title"], size="18px")
    for key, n in v["counts"].items():
        txt(vb, *v["regpos"][key], str(n), size="18px", bold=(key == "all"))


# ------------------------------------------------------------------ C
def size_of(c, cmin, cmax):
    return 9.5 + 11.0 * math.sqrt((c - cmin) / (cmax - cmin))


def dot_panel(terms, ratio, count, padj, width, left, top, frame_w, frame_h, bottom, pad,
              x0, x1, ticks, fill, lo, hi, cmin, cmax, axis_labels=True):
    n = len(terms)
    rank = [n - i for i in range(n)]          # first term on top
    p = figure(width=width, height=top + frame_h + bottom, x_range=Range1d(x0, x1),
               y_range=Range1d(0.5 - pad, n + 0.5 + pad),
               output_backend="svg", toolbar_location=None,
               min_border_left=left, min_border_right=width - left - frame_w,
               min_border_top=top, min_border_bottom=bottom)
    p.background_fill_color = fill
    p.border_fill_color = "white"
    p.outline_line_color = "#333333"
    p.outline_line_width = 1.5
    p.grid.visible = False
    mapper = LinearColorMapper(palette=PAL, low=lo, high=hi)
    src = ColumnDataSource(dict(term=terms, rank=rank, ratio=ratio, count=count, padj=padj,
                                size=[size_of(c, cmin, cmax) for c in count]))
    p.scatter("ratio", "rank", size="size", source=src,
              fill_color=transform("padj", mapper), line_color=None)
    p.xaxis.ticker = FixedTicker(ticks=ticks)
    p.xaxis.major_label_overrides = {t: "%.2f" % t for t in ticks}
    p.xaxis.axis_label = "GeneRatio"
    p.yaxis.ticker = FixedTicker(ticks=rank)
    p.yaxis.major_label_overrides = {r: (t if axis_labels else "") for r, t in zip(rank, terms)}
    for ax in (p.xaxis[0], p.yaxis[0]):
        ax.axis_line_color = None
        ax.major_tick_in = 0
        ax.major_tick_out = 4
        ax.major_tick_line_color = "#333333"
        ax.major_tick_line_width = 1.5
        ax.minor_tick_line_color = None
        ax.major_label_text_font = FONT
        ax.major_label_text_color = INK
        ax.axis_label_text_font = FONT
        ax.axis_label_text_font_size = "18px"
        ax.axis_label_text_font_style = "normal"
        ax.axis_label_text_color = INK
    p.xaxis.major_label_text_font_size = "17.5px"
    p.yaxis.major_label_text_font_size = "18px"
    p.xaxis.major_label_standoff = 0
    p.xaxis.axis_label_standoff = -2
    p.yaxis.major_label_standoff = 4 if axis_labels else 0
    return p, rank


c1, _ = dot_panel(POS_TERMS, POS_RATIO, POS_COUNT, POS_PADJ, 648, 376, 11, 202, 463, 43, 0.1,
                  0.2069, 0.3325, POS_RATIO_TICKS, "#E1F3FA", -6.4e-20, 1.91e-18, 22, 34)
# right panel: term labels live in their own strip that shares the panel's y range,
# so the very long two-line term can use a smaller font as in the original
c2, neg_rank = dot_panel(NEG_TERMS, NEG_RATIO, NEG_COUNT, NEG_PADJ, 312, 8, 11, 290, 426, 43, 0.07,
                         0.0772, 0.2401, NEG_RATIO_TICKS, "#FCEDEB", 0.7e-6, 2.07e-5, 5, 14,
                         axis_labels=False)
lab2 = figure(width=457, height=480, x_range=Range1d(0, 457), y_range=c2.y_range,
              x_axis_type=None, y_axis_type=None, min_border_left=0, min_border_right=0,
              min_border_top=11, min_border_bottom=43, output_backend="svg", toolbar_location=None)
lab2.outline_line_color = None
lab2.grid.visible = False
lab_src = ColumnDataSource(dict(term=NEG_TERMS, rank=neg_rank, x=[456] * len(NEG_TERMS),
                                fs=["13.8px" if "\n" in t else "18px" for t in NEG_TERMS]))
lab2.text(x="x", y="rank", text="term", source=lab_src, text_align="right", text_baseline="middle",
          text_font=value(FONT), text_font_size={"field": "fs"}, text_color=INK)


def legend_panel(width, height, x0, y0, y1, tx, ty, dot_x, lab_x, ys, breaks, fmt, cmin, cmax,
                 sig_x, bar_loc, bar_w, bar_h, lo, hi, pbreaks):
    p = canvas(width, height, x0, x0 + width, y0, y1)
    txt(p, tx, ty, "Count (genes)", size="18px", align="left")
    txt(p, sig_x, ty, "Significance (padj)", size="18px", align="left")
    p.scatter(x=[dot_x] * len(breaks), y=ys, size=[size_of(b, cmin, cmax) for b in breaks],
              fill_color="black", line_color=None)
    p.text(x=[lab_x] * len(breaks), y=ys, text=[fmt(b) for b in breaks], text_align="left",
           text_baseline="middle", text_font=value(FONT), text_font_size="17px", text_color=INK)
    bar_mapper = LinearColorMapper(palette=list(reversed(PAL)), low=-hi, high=-lo)
    cb = ColorBar(color_mapper=bar_mapper, orientation="vertical", location=bar_loc,
                  width=bar_w, height=bar_h, padding=0, margin=0, title=None,
                  ticker=FixedTicker(ticks=[-b for b in pbreaks]),
                  major_label_overrides={-b: sup(b) for b in pbreaks},
                  major_label_policy=AllLabels(),
                  major_label_text_font=FONT, major_label_text_font_size="18px",
                  major_label_text_color=INK, label_standoff=6,
                  major_tick_line_color="white", major_tick_in=4, major_tick_out=0,
                  minor_tick_line_color=None, bar_line_color=None, border_line_color=None,
                  background_fill_alpha=0)
    p.add_layout(cb)
    return p


# left legend panel spans image y 1557..1719, right one 1520..1719
l1 = legend_panel(648, 162, 0, 1557, 1719, 348, 1566, 359, 377,
                  [1587, 1603, 1621, 1639, 1659, 1681, 1704], POS_SIZE_BREAKS, lambda b: "%d" % b,
                  22, 34, 477, (477, 37), 17, 92, -6.4e-20, 1.91e-18, POS_PADJ_BREAKS)
l2 = legend_panel(769, 199, 648, 1520, 1719, 1121, 1564, 1131, 1147,
                  [1587, 1603, 1621, 1641], NEG_SIZE_BREAKS, lambda b: "%.1f" % b,
                  5, 14, 1260, (612, 57), 17, 84, 0.7e-6, 2.07e-5, NEG_PADJ_BREAKS)

layout = column(head, row(a1, a2, a3), vb,
                row(column(c1, row(l1)), column(row(lab2, c2), row(l2))))
open("out.html", "w").write(file_html(layout, INLINE))
